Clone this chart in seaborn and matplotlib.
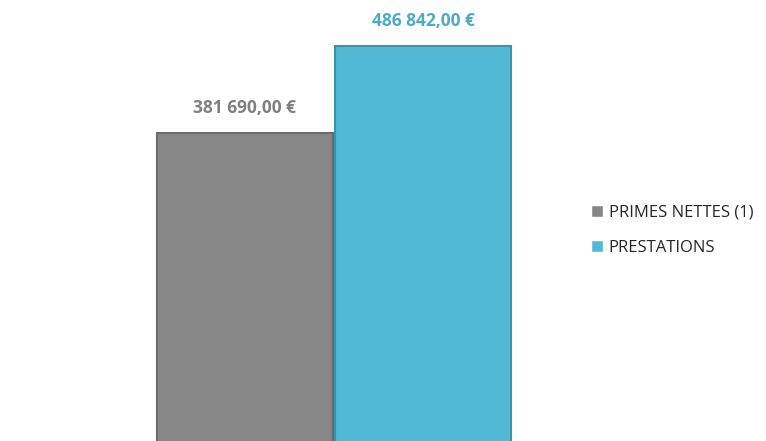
import matplotlib
matplotlib.use("Agg")
import matplotlib.pyplot as plt
import pandas as pd
import seaborn as sns

# données
categories = ["PRIMES NETTES (1)", "PRESTATIONS"]
montants = [381690.00, 486842.00]
etiquettes = ["381 690,00 €", "486 842,00 €"]
couleurs = ["#878787", "#52b8d3"]
couleurs_bord = ["#6a6a6a", "#3b94ab"]
couleurs_texte = ["#808080", "#4bacc6"]

df = pd.DataFrame({"categorie": categories, "montant": montants})

sns.set_theme(style="white")
plt.rcParams["font.family"] = ["Open Sans", "DejaVu Sans"]

fig = plt.figure(figsize=(7.66, 4.41), dpi=100)
ax = fig.add_axes([0, 0, 1, 1])

sns.barplot(data=df, x="categorie", y="montant", hue="categorie",
            palette=couleurs, width=0.99, dodge=False, legend=True,
            saturation=1, ax=ax)

for barre, bord in zip(ax.patches, couleurs_bord):
    barre.set_edgecolor(bord)
    barre.set_linewidth(1.5)

# étiquettes de valeur
for i, (val, txt, col) in enumerate(zip(montants, etiquettes, couleurs_texte)):
    ax.text(i, val + 20000, txt, ha="center", va="bottom",
            fontsize=12.5, fontweight="bold", color=col)

ax.set_xlim(-1.376, 2.927)
ax.set_ylim(9670, 542660)
ax.set_axis_off()

sns.move_legend(ax, loc="upper left", bbox_to_anchor=(0.752, 0.57),
                frameon=False, title=None, fontsize=12,
                handlelength=0.7, handleheight=0.7, handletextpad=0.35,
                labelspacing=1.15)
for t in ax.get_legend().get_texts():
    t.set_color("#262626")

fig.savefig("out.png", dpi=100)
